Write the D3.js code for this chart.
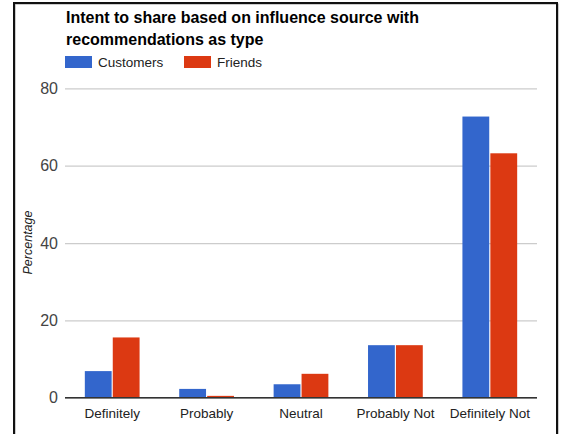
<!DOCTYPE html>
<html>
<head>
<meta charset="utf-8">
<script src="https://cdn.jsdelivr.net/npm/d3@7"></script>
<style>
  html, body { margin: 0; padding: 0; background: #fff; }
  svg { display: block; font-family: Arial, "Liberation Sans", sans-serif; }
</style>
</head>
<body>
<svg id="chart" width="565" height="434"></svg>
<script>
// Response categories and the share (%) for each influence source
const categories = ["Definitely", "Probably", "Neutral", "Probably Not", "Definitely Not"];
const seriesNames = ["Customers", "Friends"];
const customers = [6.9, 2.3, 3.5, 13.6, 72.7];
const friends = [15.6, 0.5, 6.2, 13.6, 63.2];
const yTicks = [0, 20, 40, 60, 80];
const titleLines = ["Intent to share based on influence source with", "recommendations as type"];

const colors = { Customers: "#3366cc", Friends: "#dc3912" };
const values = { Customers: customers, Friends: friends };

const svg = d3.select("#chart");

// outer frame
svg.append("rect")
  .attr("x", 15).attr("y", 4).attr("width", 543).attr("height", 450)
  .attr("fill", "none").attr("stroke", "#999").attr("stroke-width", 1);
svg.append("rect")
  .attr("x", 14).attr("y", 3).attr("width", 543).attr("height", 450)
  .attr("fill", "none").attr("stroke", "#111").attr("stroke-width", 2);

const x0 = d3.scaleBand().domain(categories).range([65, 537])
  .paddingInner(0.42).paddingOuter(0.21);
const x1 = d3.scaleBand().domain(seriesNames).range([0, x0.bandwidth()]).paddingInner(0.04);
const y = d3.scaleLinear().domain([0, 80]).range([397.8, 88.3]);

// title
svg.append("text")
  .attr("x", 66).attr("y", 23)
  .attr("font-size", 16).attr("font-weight", "bold").attr("fill", "#000")
  .selectAll("tspan").data(titleLines).join("tspan")
  .attr("x", 66).attr("dy", (d, i) => i === 0 ? 0 : 21.5)
  .text(d => d);

// legend
const legendX = [65, 184];
const leg = svg.append("g").selectAll("g").data(seriesNames).join("g")
  .attr("transform", (d, i) => `translate(${legendX[i]},56)`);
leg.append("rect").attr("width", 27).attr("height", 12).attr("fill", d => colors[d]);
leg.append("text").attr("x", 33).attr("y", 11)
  .attr("font-size", 13.5).attr("fill", "#222").text(d => d);

// gridlines + y tick labels
const yAxis = d3.axisLeft(y).tickValues(yTicks).tickSize(-(537 - 65)).tickPadding(7);
const gy = svg.append("g").attr("transform", "translate(65,0)").call(yAxis);
gy.select(".domain").remove();
gy.selectAll(".tick line").attr("stroke", "#ccc").attr("stroke-width", 1.2);
gy.selectAll(".tick text").attr("font-size", 16).attr("fill", "#444")
  .attr("font-family", "Arial, 'Liberation Sans', sans-serif");

// y axis title
svg.append("text")
  .attr("transform", `translate(32,${242.5}) rotate(-90)`)
  .attr("text-anchor", "middle").attr("font-size", 12.5)
  .attr("font-style", "italic").attr("fill", "#222")
  .text("Percentage");

// bars
const groups = svg.append("g").selectAll("g").data(categories).join("g")
  .attr("transform", d => `translate(${x0(d)},0)`);
groups.selectAll("rect")
  .data((c, i) => seriesNames.map(s => ({ s, v: values[s][i] })))
  .join("rect")
  .attr("x", d => x1(d.s))
  .attr("width", x1.bandwidth())
  .attr("y", d => y(d.v))
  .attr("height", d => y(0) - y(d.v))
  .attr("fill", d => colors[d.s]);

// baseline + category labels
const xAxis = d3.axisBottom(x0).tickSize(0).tickPadding(11);
const gx = svg.append("g").attr("transform", `translate(0,${y(0)})`).call(xAxis);
gx.select(".domain").attr("stroke", "#333").attr("stroke-width", 1.6)
  .attr("d", "M65,0H537");
gx.selectAll(".tick text").attr("font-size", 13.5).attr("fill", "#222")
  .attr("font-family", "Arial, 'Liberation Sans', sans-serif");
</script>
</body>
</html>
